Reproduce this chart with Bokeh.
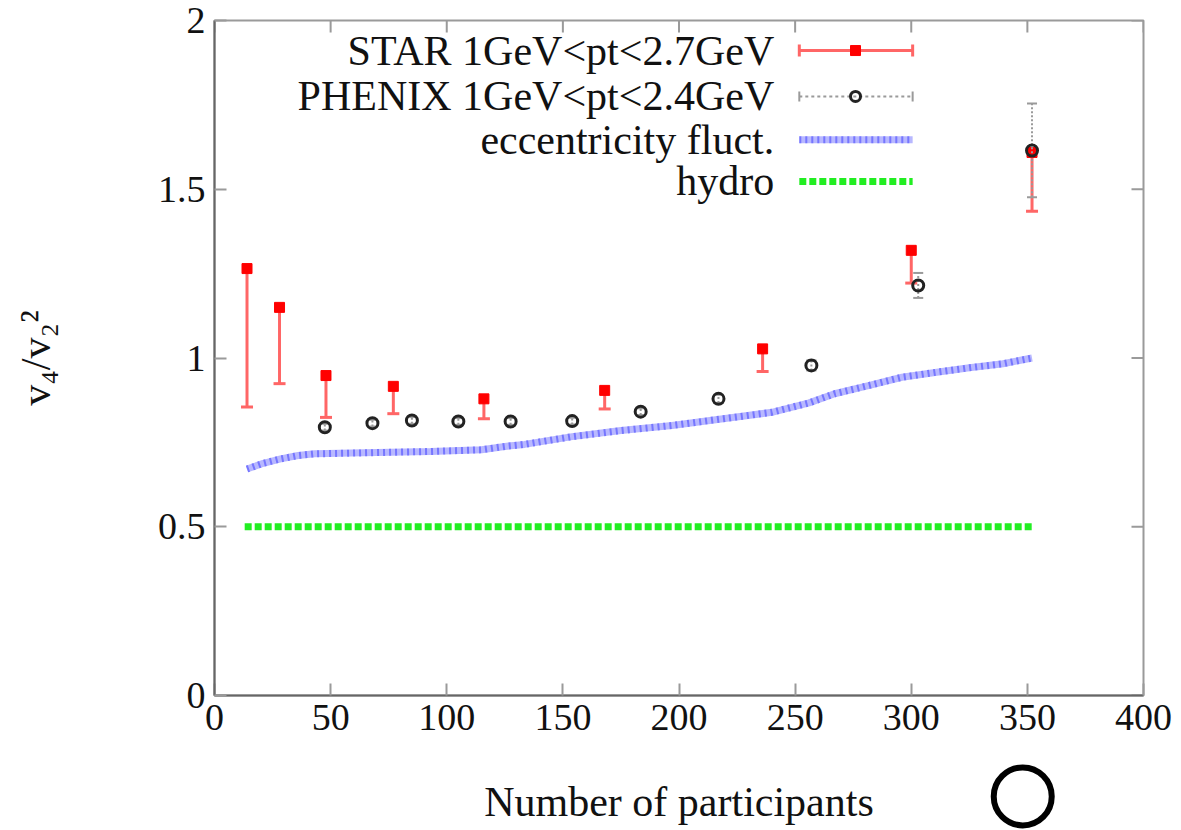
import numpy as np
from bokeh.plotting import figure
from bokeh.models import FixedTicker, NumeralTickFormatter, Range1d, Label, GridBox
from bokeh.embed import file_html
from bokeh.resources import INLINE

# ---------------- data ----------------
star_npart = [14, 28, 48, 77, 116, 168, 236, 300, 352]
star_v = [1.265, 1.150, 0.948, 0.916, 0.879, 0.904, 1.027, 1.319, 1.609]
star_low = [0.855, 0.924, 0.824, 0.835, 0.820, 0.849, 0.960, 1.222, 1.435]

phenix_npart = [47.5, 68, 85, 105, 127.5, 154, 183.5, 217, 257, 303, 352]
phenix_v = [0.795, 0.807, 0.815, 0.812, 0.812, 0.813, 0.841, 0.879, 0.978, 1.215, 1.615]
phenix_err = [0.010, 0.010, 0.010, 0.010, 0.010, 0.010, 0.010, 0.012, 0.015, 0.037, 0.139]

ecc_npart = [14, 21, 28.5, 36, 43, 64, 93, 115, 125, 133.5, 154, 175, 197, 219,
             240, 256, 267, 282, 296, 311, 325, 339.5, 352]
ecc_v = [0.671, 0.688, 0.701, 0.711, 0.716, 0.719, 0.723, 0.728, 0.738, 0.744, 0.767,
         0.785, 0.800, 0.820, 0.839, 0.867, 0.894, 0.919, 0.943, 0.958, 0.971, 0.983, 1.000]

hydro_npart = [13, 352]
hydro_v = [0.5, 0.5]

x_ticks = [0, 50, 100, 150, 200, 250, 300, 350, 400]
y_ticks = [0, 0.5, 1, 1.5, 2]

legend_labels = ["STAR 1GeV<pt<2.7GeV", "PHENIX 1GeV<pt<2.4GeV",
                 "eccentricity fluct.", "hydro"]

# highlight ring drawn below the axis, near Npart = 350
ring_x, ring_y = 348, -0.299

FONT = "Liberation Serif"
STAR_BAR = "#ff6666"
STAR_MARK = "#ff0000"
PH_BAR = "#9a9a9a"
PH_MARK = "#222222"
ECC_BASE = "#b8b8ff"
ECC_DASH = "#5a5aff"
HYDRO = "#22ee22"
TICK = "#9a9a9a"

W, H = 1181, 830
L, R, T, B = 214, 38, 20, 135
FW, FH = W - L - R, H - T - B
X0, X1, Y0, Y1 = 0, 400, 0, 2

p = figure(frame_width=FW, frame_height=FH,
           min_border_left=L, min_border_right=R, min_border_top=T, min_border_bottom=B,
           x_range=Range1d(X0, X1), y_range=Range1d(Y0, Y1),
           output_backend="svg", toolbar_location=None)
p.background_fill_color = "white"
p.border_fill_color = "white"
p.grid.visible = False
p.outline_line_color = "#9a9a9a"
p.outline_line_width = 2

for ax, ticks in ((p.xaxis[0], x_ticks), (p.yaxis[0], y_ticks)):
    ax.ticker = FixedTicker(ticks=ticks)
    ax.axis_line_color = "#666666"
    ax.axis_line_width = 2
    ax.major_tick_in = 12
    ax.major_tick_out = 0
    ax.major_tick_line_color = TICK
    ax.major_tick_line_width = 2
    ax.minor_tick_line_color = None
    ax.major_label_text_font = FONT
    ax.major_label_text_font_size = "38px"
    ax.major_label_text_color = "#111111"
    ax.major_label_standoff = 9
    ax.axis_label_text_font = FONT
    ax.axis_label_text_font_size = "42px"
    ax.axis_label_text_font_style = "normal"
    ax.axis_label_text_color = "#111111"

p.yaxis[0].formatter = NumeralTickFormatter(format="0.[0]")
p.xaxis[0].axis_label = "Number of participants"
p.xaxis[0].axis_label_standoff = 46
p.yaxis[0].axis_label = "v₄/v₂²"
p.yaxis[0].axis_label_standoff = 96

# mirrored tick marks on the top and right frame edges (outer half clipped by the frame)
p.scatter(x_ticks, [y_ticks[-1]] * len(x_ticks), marker="dash", angle=np.pi / 2, size=24,
          line_color=TICK, line_width=2)
p.scatter([x_ticks[-1]] * len(y_ticks), y_ticks, marker="dash", size=24,
          line_color=TICK, line_width=2)

# ---------------- curves ----------------
p.line(hydro_npart, hydro_v, line_color=HYDRO, line_width=7, line_dash="7 3")
p.line(ecc_npart, ecc_v, line_color=ECC_BASE, line_width=7)
p.line(ecc_npart, ecc_v, line_color=ECC_DASH, line_width=7, line_dash="2 4", line_alpha=0.7)

# ---------------- STAR ----------------
p.segment(star_npart, star_low, star_npart, star_v, line_color=STAR_BAR, line_width=3)
p.scatter(star_npart, star_low, marker="dash", size=12, line_color=STAR_BAR, line_width=3)
p.scatter(star_npart, star_v, marker="square", size=10, fill_color=STAR_MARK, line_color=STAR_MARK)

# ---------------- PHENIX ----------------
ph_lo = [v - e for v, e in zip(phenix_v, phenix_err)]
ph_hi = [v + e for v, e in zip(phenix_v, phenix_err)]
p.segment(phenix_npart, ph_lo, phenix_npart, ph_hi, line_color=PH_BAR, line_width=2, line_dash="2 2")
p.scatter(phenix_npart, ph_lo, marker="dash", size=10, line_color=PH_BAR, line_width=2)
p.scatter(phenix_npart, ph_hi, marker="dash", size=10, line_color=PH_BAR, line_width=2)
p.scatter(phenix_npart, phenix_v, marker="circle", size=11, fill_color=None,
          line_color=PH_MARK, line_width=3)

# ---------------- legend (gnuplot style: text left, sample right) ----------------
leg_text_x = 241
leg_x0, leg_x1, leg_xm = 251.8, 300.6, 276
leg_y = [1.911, 1.775, 1.647, 1.523]
for lab, yy in zip(legend_labels, leg_y):
    p.add_layout(Label(x=leg_text_x, y=yy, text=lab, text_align="right",
                       text_baseline="middle", text_font=FONT, text_font_size="42px",
                       text_color="#111111"))

p.segment([leg_x0], [leg_y[0]], [leg_x1], [leg_y[0]], line_color=STAR_BAR, line_width=3)
p.scatter([leg_x0, leg_x1], [leg_y[0], leg_y[0]], marker="dash", angle=np.pi / 2, size=12,
          line_color=STAR_BAR, line_width=3)
p.scatter([leg_xm], [leg_y[0]], marker="square", size=10, fill_color=STAR_MARK, line_color=STAR_MARK)
p.segment([leg_x0], [leg_y[1]], [leg_x1], [leg_y[1]], line_color=PH_BAR, line_width=2, line_dash="3 3")
p.scatter([leg_x0, leg_x1], [leg_y[1], leg_y[1]], marker="dash", angle=np.pi / 2, size=10,
          line_color=PH_BAR, line_width=2)
p.scatter([leg_xm], [leg_y[1]], marker="circle", size=10, fill_color=None, line_color=PH_MARK, line_width=3)
p.line([leg_x0, leg_x1], [leg_y[2], leg_y[2]], line_color=ECC_BASE, line_width=7)
p.line([leg_x0, leg_x1], [leg_y[2], leg_y[2]], line_color=ECC_DASH, line_width=7,
       line_dash="2 4", line_alpha=0.7)
p.line([leg_x0, leg_x1], [leg_y[3], leg_y[3]], line_color=HYDRO, line_width=7, line_dash="7 3")

# ---------------- transparent overlay covering the whole canvas (for the ring outside the frame) ----------------
sx = (X1 - X0) / FW
sy = (Y1 - Y0) / FH
ov = figure(width=W, height=H, min_border=0,
            x_range=Range1d(X0 - L * sx, X1 + R * sx), y_range=Range1d(Y0 - B * sy, Y1 + T * sy),
            output_backend="svg", toolbar_location=None)
if "frame_align" in ov.properties():
    ov.frame_align = False
    p.frame_align = False
ov.axis.visible = False
ov.grid.visible = False
ov.outline_line_color = None
ov.background_fill_color = None
ov.border_fill_color = None
ov.scatter([ring_x], [ring_y], marker="circle", size=58, fill_color=None,
           line_color="black", line_width=6)

grid = GridBox(children=[(p, 0, 0), (ov, 0, 0)])
open("out.html", "w").write(file_html(grid, INLINE))
